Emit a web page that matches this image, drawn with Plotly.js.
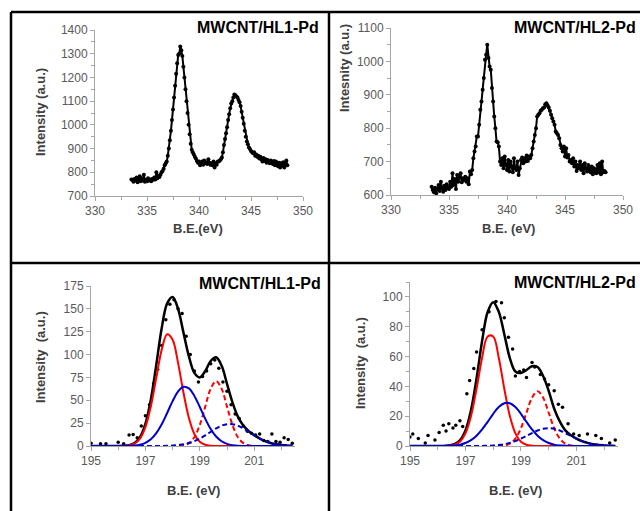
<!DOCTYPE html>
<html><head><meta charset="utf-8">
<script src="https://cdn.plot.ly/plotly-3.0.1.min.js"></script>
<style>html,body{margin:0;padding:0;background:#fff}#chart{width:640px;height:511px}</style>
</head><body><div id="chart"></div>
<script>
// ---------- Pd 3d survey spectra (top panels), 0.1 eV steps from 333.5 eV ----------
const surveyStart = 333.5;
const surveyStep = 0.1;
const hl1Survey = [
 770,768,760,772,765,778,758,770,783,762,
 775,765,790,760,768,762,775,765,770,762,
 772,768,778,770,800,775,785,780,790,800,
 805,815,830,838,845,870,900,935,975,1020,
 1065,1115,1165,1215,1260,1295,1300,1330,1315,1290,
 1245,1200,1150,1100,1050,1000,960,920,895,885,
 875,865,858,848,840,845,830,838,845,832,
 850,838,842,835,855,840,832,838,830,845,
 820,838,832,845,845,850,855,862,885,915,
 940,965,990,1020,1045,1070,1090,1100,1115,1128,
 1125,1120,1115,1105,1095,1080,1055,1030,1005,975,
 950,930,918,905,898,890,885,880,885,870,
 875,865,870,858,866,855,845,860,848,855,
 840,852,845,838,850,842,835,848,830,845,
 838,825,840,820,838,828,842,820,835,850,
 830];
const hl2Survey = [
 625,615,608,622,605,618,630,612,640,620,
 610,628,615,632,622,618,640,625,665,630,
 648,618,660,640,652,665,638,650,645,655,
 640,650,632,670,662,675,710,730,745,775,
 775,810,855,880,915,950,1005,1020,1050,1010,
 985,975,920,880,835,800,760,758,745,700,
 690,710,680,715,690,675,705,670,700,685,
 668,710,680,675,700,660,680,705,712,695,
 710,700,718,702,715,710,720,740,760,780,
 800,835,840,845,852,855,860,862,872,875,
 868,862,852,840,830,820,810,790,785,780,
 770,750,740,730,745,715,740,712,720,700,
 705,695,710,685,700,672,690,680,700,675,
 690,665,695,680,670,690,675,668,685,662,
 680,670,665,690,668,695,662,700,668,672,
 668];

// ---------- deconvoluted spectra (bottom panels), fit curves on 0.2 eV grid from 195.0 eV ----------
const fitStart = 195.0;
const fitStep = 0.2;
const hl1Envelope = [0,0,0,0,0, 0,0.2,0.9,3.2,9.6, 24.2,50.7,88.7,129,156, 163,150,124,98,80, 75,82,93,97,88, 68,47.8,32.1,22.4,16.3, 11.9,8.2,5.3,3.2,1.8, 1.0,0.5,0.2];
const hl1RedSolid = [0,0,0,0,0, 0,0.15,0.7,2.6,8.1, 20.7,43.3,74.6,105.4,122.2, 116.3,90.9,58.3,30.7,13.2, 4.7,1.4,0.3,0.1,0, 0,0,0,0,0, 0,0,0,0,0, 0,0,0];
const hl1BlueSolid = [0,0,0,0,0, 0,0,0.2,0.6,1.5, 3.5,7.4,14.1,23.8,36.1, 49.1,59.6,64.8,63.0,54.8, 42.7,29.8,18.6,10.4,5.2, 2.3,0.9,0.3,0.1,0, 0,0,0,0,0, 0,0,0];
const hl1RedDash = [0,0,0,0,0, 0,0,0,0,0, 0,0,0,0,0, 0,0.16,0.8,3.1,9.6, 23.1,43.1,62.7,71,62.7, 43.1,23.1,9.6,3.1,0.8, 0.16,0,0,0,0, 0,0,0];
const hl1BlueDash = [0,0,0,0,0, 0,0,0,0,0, 0,0,0.04,0.1,0.2, 0.5,1.0,1.8,3.2,5.3, 8.2,11.7,15.5,19.2,22.2, 23.8,23.8,22.2,19.2,15.5, 11.7,8.2,5.3,3.2,1.8, 1.0,0.5,0.2];
const hl1DotsX = [195.0,195.35,195.55,196.0,196.2,196.4,196.55,196.7,196.85,197.0,197.15,197.3,197.45,197.6,197.75,197.9,198.05,198.2,198.35,198.5,198.65,198.8,198.95,199.1,199.25,199.4,199.55,199.7,199.85,200.0,200.15,200.3,200.45,200.6,200.75,200.9,201.05,201.2,201.35,201.5,201.65,201.8,201.95,202.1,202.25,202.4];
const hl1DotsY = [3,2.5,2.5,4,2.5,12,12.5,9,22,33,45,68,84,110,138,155,160,150,145,120,100,82,70,76,82,90,94,85,70,60,45,35,30,22,16,14,12,13,6,5,13,5,4,9,7,3];

const hl2Envelope = [0,0,0,0,0, 0,0.03,0.4,1.2,3.8, 10.5,24,45.3,70.4,89.9, 96.5,90,75,59,50, 49,51,53.5,53,47, 37,25,16.5,10.5,7.2, 5.0,3.3,2.1,1.2,0.7, 0.3,0.2,0.07];
const hl2RedSolid = [0,0,0,0,0, 0,0.03,0.2,0.8,2.9, 8.5,20.1,38.4,59.2,73.5, 73.5,59.2,38.4,20.1,8.5, 2.9,0.8,0.2,0.03,0, 0,0,0,0,0, 0,0,0,0,0, 0,0,0];
const hl2BlueSolid = [0,0,0,0,0, 0,0,0.2,0.4,0.9, 2.0,3.9,6.9,11.1,16.2, 21.6,26.1,28.7,28.7,26.1, 21.6,16.2,11.1,6.9,3.9, 2.0,0.9,0.4,0.2,0, 0,0,0,0,0, 0,0,0];
const hl2RedDash = [0,0,0,0,0, 0,0,0,0,0, 0,0,0,0,0, 0,0.08,0.4,1.6,5.0, 11.9,22.3,32.4,36.7,32.4, 22.3,11.9,5.0,1.6,0.4, 0.08,0,0,0,0, 0,0,0];
const hl2BlueDash = [0,0,0,0,0, 0,0,0,0,0, 0,0,0.03,0.07,0.2, 0.3,0.7,1.2,2.1,3.3, 4.9,6.8,8.7,10.4,11.6, 12,11.6,10.4,8.7,6.8, 4.9,3.3,2.1,1.2,0.7, 0.3,0.2,0.07];
const hl2DotsX = [195.0,195.1,195.3,195.55,195.65,195.9,196.05,196.2,196.3,196.4,196.55,196.65,196.8,196.9,197.05,197.15,197.3,197.4,197.6,197.85,198.1,198.3,198.4,198.55,198.7,198.8,198.95,199.1,199.2,199.4,199.5,199.7,199.85,200.0,200.2,200.35,200.5,200.7,200.9,201.1,201.4,201.7,201.9,202.2,202.4];
const hl2DotsY = [6,8,5,2,7,4,9,14,10,15,12,14,17,13,35,44,52,63,78,90,97,96,86,73,65,47,50,51,46,56,53,48,45,41,37,28,26,15,8,7,8,7,5,2,4];

const panelTitles = ['MWCNT/HL1-Pd','MWCNT/HL2-Pd','MWCNT/HL1-Pd','MWCNT/HL2-Pd'];
const yTitles = ['Intensity (a.u.)','Intesnity (a.u.)','Intensity\u00a0 (a.u.)','Intensity\u00a0 (a.u.)'];
const xTitles = ['B.E.(eV)','B.E. (eV)','B.E. (eV)','B.E. (eV)'];

// ---------- styling / layout ----------
const W = 640, H = 511;
const FONT = 'Liberation Sans, Arial, sans-serif';
const px = v => v / W;
const py = v => 1 - v / H;
const AX = '#a6a6a6';
const RED = '#ff0000', BLUE = '#0000cc';

function axis(extra) {
  return Object.assign({
    showgrid: false, zeroline: false, showline: true, linecolor: AX, linewidth: 1,
    ticks: 'outside', ticklen: 4, tickcolor: AX, tickwidth: 1,
    tickfont: {family: FONT, size: 12, color: '#595959'}, fixedrange: true
  }, extra);
}

const surveyLine = (y, xa, ya) => ({
  type: 'scatter', mode: 'lines+markers', x0: surveyStart, dx: surveyStep, y: y,
  xaxis: xa, yaxis: ya, line: {color: '#000', width: 2},
  marker: {color: '#000', size: 4}, hoverinfo: 'skip'
});
const fitLine = (y, xa, ya, color, width, dash) => ({
  type: 'scatter', mode: 'lines', x0: fitStart, dx: fitStep, y: y,
  xaxis: xa, yaxis: ya, line: {color: color, width: width, dash: dash || 'solid', shape: 'spline', smoothing: 1},
  hoverinfo: 'skip'
});
const dots = (x, y, xa, ya) => ({
  type: 'scatter', mode: 'markers', x: x, y: y, xaxis: xa, yaxis: ya,
  marker: {color: '#000', size: 3.5}, hoverinfo: 'skip'
});

const data = [
  surveyLine(hl1Survey, 'x', 'y'),
  surveyLine(hl2Survey, 'x2', 'y2'),
  dots(hl1DotsX, hl1DotsY, 'x3', 'y3'),
  fitLine(hl1Envelope, 'x3', 'y3', '#000', 2.5),
  fitLine(hl1RedSolid, 'x3', 'y3', RED, 2),
  fitLine(hl1RedDash, 'x3', 'y3', RED, 2, '5px,3px'),
  fitLine(hl1BlueDash, 'x3', 'y3', BLUE, 2, '5px,3px'),
  fitLine(hl1BlueSolid, 'x3', 'y3', BLUE, 2),
  dots(hl2DotsX, hl2DotsY, 'x4', 'y4'),
  fitLine(hl2Envelope, 'x4', 'y4', '#000', 2.5),
  fitLine(hl2RedSolid, 'x4', 'y4', RED, 2),
  fitLine(hl2RedDash, 'x4', 'y4', RED, 2, '5px,3px'),
  fitLine(hl2BlueDash, 'x4', 'y4', BLUE, 2, '5px,3px'),
  fitLine(hl2BlueSolid, 'x4', 'y4', BLUE, 2)
];

const minor = (d) => ({ticks: 'outside', ticklen: 3, dtick: d, tickcolor: AX, tickwidth: 1});

const layout = {
  width: W, height: H, autosize: false,
  margin: {l: 0, r: 0, t: 0, b: 0, pad: 0},
  paper_bgcolor: '#fff', plot_bgcolor: 'rgba(0,0,0,0)',
  showlegend: false,
  font: {family: FONT},
  xaxis: axis({domain: [px(95), px(303)], range: [330, 350], tick0: 330, dtick: 5, minor: minor(2.5), anchor: 'y'}),
  yaxis: axis({domain: [py(196), py(30)], range: [700, 1400], dtick: 100, minor: minor(50), anchor: 'x'}),
  xaxis2: axis({domain: [px(391), px(623)], range: [330, 350], tick0: 330, dtick: 5, minor: minor(2.5), anchor: 'y2'}),
  yaxis2: axis({domain: [py(195), py(28)], range: [600, 1100], dtick: 100, minor: minor(50), anchor: 'x2'}),
  xaxis3: axis({domain: [px(91), px(295)], range: [195, 202.5], tick0: 195, dtick: 2, minor: minor(1), anchor: 'y3'}),
  yaxis3: axis({domain: [py(446), py(286)], range: [0, 175], dtick: 25, anchor: 'x3'}),
  xaxis4: axis({domain: [px(410), px(618)], range: [195, 202.5], tick0: 195, dtick: 2, minor: minor(1), anchor: 'y4'}),
  yaxis4: axis({domain: [py(446), py(282)], range: [0, 110], dtick: 20, minor: minor(10), anchor: 'x4'}),
  shapes: [
    {type: 'line', xref: 'paper', yref: 'paper', x0: px(11), x1: 1, y0: py(12), y1: py(12), line: {color: '#000', width: 2.5}},
    {type: 'line', xref: 'paper', yref: 'paper', x0: px(11), x1: px(11), y0: 0, y1: py(12), line: {color: '#000', width: 2.5}},
    {type: 'line', xref: 'paper', yref: 'paper', x0: px(329), x1: px(329), y0: 0, y1: py(12), line: {color: '#000', width: 2.5}},
    {type: 'line', xref: 'paper', yref: 'paper', x0: px(11), x1: 1, y0: py(263), y1: py(263), line: {color: '#000', width: 2.5}}
  ],
  annotations: []
};

const titleFont = {family: FONT, size: 16, color: '#000'};
const axTitleFont = {family: FONT, size: 13, color: '#404040'};
const ann = (text, x, y, opts) => Object.assign({
  text: text, xref: 'paper', yref: 'paper', x: px(x), y: py(y), showarrow: false,
  xanchor: 'center', yanchor: 'middle'
}, opts);

layout.annotations.push(
  ann('<b>' + panelTitles[0] + '</b>', 321, 27, {xanchor: 'right', font: titleFont}),
  ann('<b>' + panelTitles[1] + '</b>', 638, 27, {xanchor: 'right', font: titleFont}),
  ann('<b>' + panelTitles[2] + '</b>', 323, 283, {xanchor: 'right', font: titleFont}),
  ann('<b>' + panelTitles[3] + '</b>', 638, 282, {xanchor: 'right', font: titleFont}),
  ann('<b>' + yTitles[0] + '</b>', 40, 112, {textangle: -90, font: axTitleFont}),
  ann('<b>' + yTitles[1] + '</b>', 344, 68, {textangle: -90, font: axTitleFont}),
  ann('<b>' + yTitles[2] + '</b>', 40, 357, {textangle: -90, font: axTitleFont}),
  ann('<b>' + yTitles[3] + '</b>', 360, 363, {textangle: -90, font: axTitleFont}),
  ann('<b>' + xTitles[0] + '</b>', 198, 229, {font: axTitleFont}),
  ann('<b>' + xTitles[1] + '</b>', 508, 228, {font: axTitleFont}),
  ann('<b>' + xTitles[2] + '</b>', 193, 490, {font: axTitleFont}),
  ann('<b>' + xTitles[3] + '</b>', 515, 490, {font: axTitleFont})
);

Plotly.newPlot('chart', data, layout, {staticPlot: true, displayModeBar: false});
</script></body></html>
